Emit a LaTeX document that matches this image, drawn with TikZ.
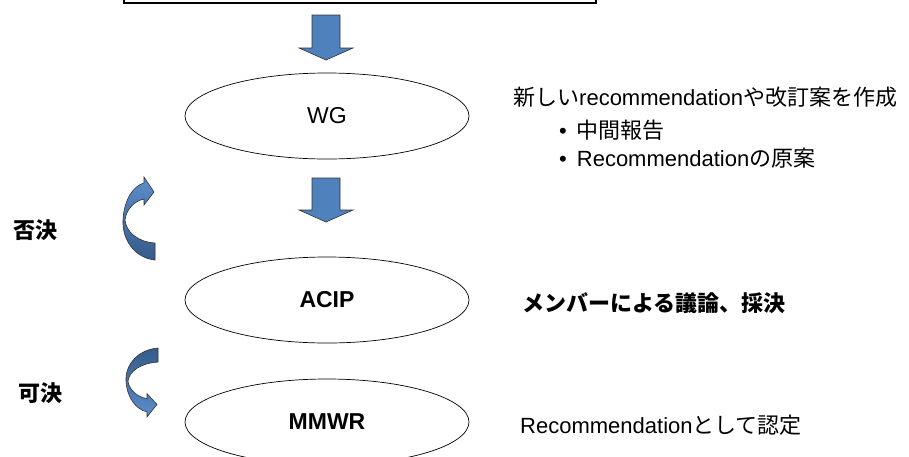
\documentclass[tikz,border=0pt]{standalone}
\usepackage{fontspec}
\setmainfont{Liberation Sans}
\newfontfamily\jp{Noto Sans CJK JP}
\usepackage{tikz}
\usetikzlibrary{calc,shapes.geometric}
\definecolor{arrowblue}{RGB}{79,129,189}
\definecolor{arrowlight}{RGB}{92,142,204}
\definecolor{arrowdark}{RGB}{54,90,138}
\def\bigtext{\fontsize{22}{26}\selectfont}
\def\blockarrow[#1](#2)(#3)% Syntax: [draw options] (shaft top) (tip)
{ \draw[#1] ($(#2)+(-14,0)$) -- ($(#2)+(14,0)$) -- ($(#3)+(14,-12)$) -- ($(#3)+(27,-12)$) -- (#3)
	-- ($(#3)+(-27,-12)$) -- ($(#3)+(-14,-12)$) -- cycle; }
\def\bendarrow[#1](#2)% Syntax: [draw options] (tail end)
{ \shadedraw[bendstyle,shift={(#2)},#1] (0,0) .. controls (-20,-2) and (-33,-20) .. (-32,-40)
	.. controls (-31,-60) and (-22,-74) .. (-11,-77) -- (-11,-83) -- (-1,-68) -- (-11,-55) -- (-11,-61)
	.. controls (-21,-59) and (-29,-50) .. (-30,-40) .. controls (-29,-28) and (-17,-18) .. (0,-17) -- cycle; }

\begin{document}
\begin{tikzpicture}[x=1pt,y=-1pt,
	stage/.style={ellipse,draw,line width=0.7pt,minimum width=284pt,minimum height=86pt,font=\fontsize{23}{27}\selectfont},
	bluearrow/.style={fill=arrowblue,draw=black!80,line width=0.6pt},
	bendstyle/.style={draw=black!80,line width=0.6pt,top color=arrowlight,bottom color=arrowdark},
	txt/.style={anchor=west,inner sep=0pt,font=\bigtext},
	jpbold/.style={inner sep=0pt,font=\bigtext\jp\bfseries}]
	\useasboundingbox (0,0) rectangle (909,456);
	\clip (0,0) rectangle (909,456);
	
	\draw[line width=1.2pt] (124,-40) rectangle (596,3);	%frame cut at the top
	
	\node[stage] (wg) at (327,116) {WG};
	\node[stage,font=\fontsize{23}{27}\selectfont\bfseries] (acip) at (327,300) {ACIP};
	\node[stage,font=\fontsize{23}{27}\selectfont\bfseries] (mmwr) at (327,422) {MMWR};
	
	\coordinate (a1) at (326,15);  \coordinate (a1tip) at (326,60);
	\coordinate (a2) at (326,178); \coordinate (a2tip) at (326,222);
	\blockarrow[bluearrow](a1)(a1tip)
	\blockarrow[bluearrow](a2)(a2tip)
	
	\bendarrow[](155,260)				%back up
	\bendarrow[yscale=-0.83,top color=arrowdark,bottom color=arrowlight](158,348)	%down to MMWR
	
	\node[jpbold] (reject) at (35,230) {否決};
	\node[jpbold] (pass) at (40,393) {可決};
	%
	\node[txt] (newrec) at (513,97) {{\jp 新しい}recommendation{\jp や改訂案を作成}};
	\node[txt] (bul1) at (559,130) {\textbullet\hspace{10pt}{\jp 中間報告}};
	\node[txt] (bul2) at (559,158) {\textbullet\hspace{10pt}Recommendation{\jp の原案}};
	%
	\node[jpbold,anchor=west] (vote) at (522,303) {メンバーによる議論、採決};
	\node[txt] (cert) at (520,425) {Recommendation{\jp として認定}};
\end{tikzpicture}
\end{document}
